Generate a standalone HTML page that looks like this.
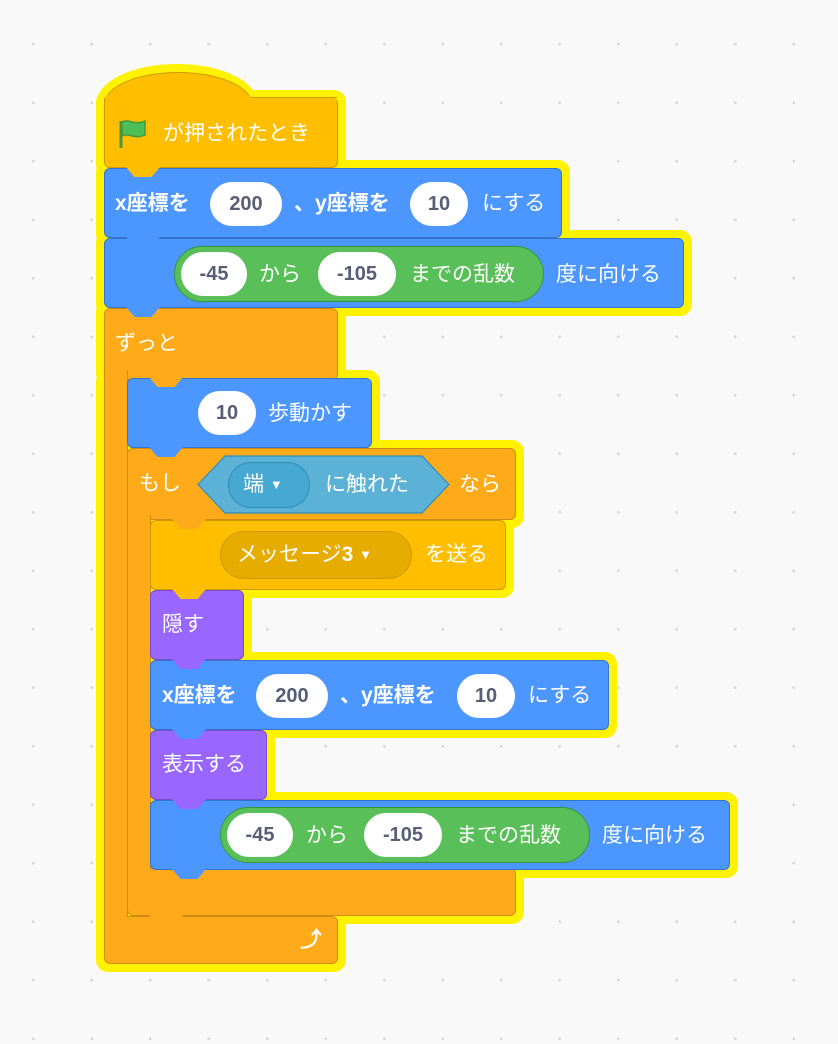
<!DOCTYPE html>
<html><head><meta charset="utf-8"><style>
html,body{margin:0;padding:0}
body{width:838px;height:1044px;position:relative;overflow:hidden;background-color:#f9f9f9;background-image:radial-gradient(circle,#d6d6d6 1.2px,transparent 1.6px);background-size:58.5px 58.5px;background-position:4px 15px;font-family:"Liberation Sans","Noto Sans CJK JP",sans-serif;}
.a{position:absolute;box-sizing:border-box}
.y{background:#fff200;border-radius:12px}
.b{border-radius:6px}
.t{position:absolute;color:#fff;font-size:21px;white-space:nowrap;line-height:24px}
.in{position:absolute;background:#fff;border-radius:22px;color:#575e75;font-size:20px;font-weight:bold;text-align:center;line-height:44px;height:44px;box-sizing:border-box}
.n{position:absolute;width:34px;height:10px;clip-path:polygon(0 0,100% 0,75% 100%,25% 100%)}
.blue{background:#4c97ff;border:1px solid #3373cc}
.or{background:#ffab19;border:1px solid #cf8b17}
.ye{background:#ffbf00;border:1px solid #cc9900}
.pu{background:#9966ff;border:1px solid #774dcb}
.gr{background:#59c059;border:1px solid #389438}
.ar{font-size:13px;vertical-align:2px}
</style></head><body>
<!-- yellow glow -->
<div class="a y" style="left:96px;top:64px;width:162px;height:80px;border-radius:80px 80px 0 0 / 40px 40px 0 0"></div>
<div class="a y" style="left:96px;top:90px;width:250px;height:86px"></div>
<div class="a y" style="left:96px;top:160px;width:474px;height:86px"></div>
<div class="a y" style="left:96px;top:230px;width:596px;height:86px"></div>
<div class="a y" style="left:96px;top:300px;width:250px;height:86px"></div>
<div class="a y" style="left:96px;top:370px;width:40px;height:600px"></div>
<div class="a y" style="left:96px;top:908px;width:250px;height:64px"></div>
<div class="a y" style="left:120px;top:370px;width:260px;height:86px"></div>
<div class="a y" style="left:120px;top:440px;width:404px;height:88px"></div>
<div class="a y" style="left:120px;top:510px;width:40px;height:414px"></div>
<div class="a y" style="left:120px;top:862px;width:404px;height:62px"></div>
<div class="a y" style="left:143px;top:512px;width:371px;height:86px"></div>
<div class="a y" style="left:143px;top:582px;width:109px;height:86px"></div>
<div class="a y" style="left:143px;top:652px;width:474px;height:86px"></div>
<div class="a y" style="left:143px;top:722px;width:132px;height:86px"></div>
<div class="a y" style="left:143px;top:792px;width:595px;height:86px"></div>

<!-- hat -->
<div class="a ye" style="left:104px;top:72px;width:148px;height:60px;border-radius:74px 74px 0 0 / 32px 32px 0 0;border-bottom:none"></div>
<div class="a ye" style="left:104px;top:98px;width:234px;height:70px;border-top:none;border-radius:0 6px 6px 6px"></div>
<div class="a" style="left:240px;top:97px;width:97px;height:1px;background:#cc9900"></div>
<div class="a" style="left:105px;top:96px;width:146px;height:6px;background:#ffbf00"></div>
<svg class="a" style="left:118px;top:118px" width="30" height="32" viewBox="0 0 30 32"><path d="M3 3 L3 30" stroke="#45993d" stroke-width="3"/><path d="M4 4 C10 0 16 8 27 3 L27 17 C16 22 10 14 4 18 Z" fill="#4cbf56" stroke="#45993d" stroke-width="1.5"/></svg>
<div class="t" style="left:163px;top:122px">が押されたとき</div>

<!-- set xy -->
<div class="a b blue" style="left:104px;top:168px;width:458px;height:70px"></div>
<div class="t" style="left:115px;top:192px;font-weight:bold">x座標を</div>
<div class="in" style="left:210px;top:182px;width:72px">200</div>
<div class="t" style="left:294px;top:192px;font-weight:bold">、y座標を</div>
<div class="in" style="left:410px;top:182px;width:58px">10</div>
<div class="t" style="left:482px;top:192px">にする</div>

<!-- point dir -->
<div class="a b blue" style="left:104px;top:238px;width:580px;height:70px"></div>
<div class="a gr" style="left:174px;top:246px;width:370px;height:56px;border-radius:28px"></div>
<div class="in" style="left:181px;top:252px;width:66px">-45</div>
<div class="t" style="left:259px;top:263px">から</div>
<div class="in" style="left:318px;top:252px;width:78px">-105</div>
<div class="t" style="left:410px;top:263px">までの乱数</div>
<div class="t" style="left:556px;top:263px">度に向ける</div>

<!-- forever -->
<div class="a b or" style="left:104px;top:308px;width:234px;height:72px"></div>
<div class="a or" style="left:104px;top:370px;width:24px;height:560px;border-top:none;border-bottom:none"></div>
<div class="a b or" style="left:104px;top:916px;width:234px;height:48px"></div>
<div class="a" style="left:105px;top:370px;width:22px;height:560px;background:#ffab19"></div>
<div class="t" style="left:115px;top:332px">ずっと</div>
<div class="t" style="left:300px;top:928px;font-size:22px;font-weight:bold">⤴</div>

<!-- move -->
<div class="a b blue" style="left:127px;top:378px;width:245px;height:70px"></div>
<div class="in" style="left:198px;top:391px;width:58px">10</div>
<div class="t" style="left:268px;top:402px">歩動かす</div>

<!-- if -->
<div class="a b or" style="left:127px;top:448px;width:389px;height:72px"></div>
<div class="a or" style="left:127px;top:515px;width:24px;height:360px;border-top:none;border-bottom:none"></div>
<div class="a b or" style="left:127px;top:868px;width:389px;height:48px"></div>
<div class="a" style="left:128px;top:512px;width:22px;height:362px;background:#ffab19"></div>
<div class="t" style="left:139px;top:472px">もし</div>
<svg class="a" style="left:197px;top:455px" width="254" height="60"><polygon points="1,29.5 28,1 225,1 252,29.5 225,58 28,58" fill="#5cb1d6" stroke="#2e8eb8" stroke-width="1.2"/></svg>
<div class="a" style="left:228px;top:462px;width:82px;height:46px;border-radius:23px;background:#47a8d1;border:1px solid #2e8eb8"></div>
<div class="t" style="left:243px;top:473px">端 <span class="ar">▼</span></div>
<div class="t" style="left:325px;top:473px">に触れた</div>
<div class="t" style="left:459px;top:473px">なら</div>

<!-- broadcast -->
<div class="a b ye" style="left:150px;top:520px;width:356px;height:70px"></div>
<div class="a" style="left:220px;top:531px;width:192px;height:48px;border-radius:24px;background:#e6ac00;border:1px solid #cc9900"></div>
<div class="t" style="left:237px;top:543px">メッセージ<b>3</b> <span class="ar">▼</span></div>
<div class="t" style="left:425px;top:543px">を送る</div>

<!-- hide -->
<div class="a b pu" style="left:150px;top:590px;width:94px;height:70px"></div>
<div class="t" style="left:162px;top:613px">隠す</div>

<!-- set xy 2 -->
<div class="a b blue" style="left:150px;top:660px;width:459px;height:70px"></div>
<div class="t" style="left:162px;top:684px;font-weight:bold">x座標を</div>
<div class="in" style="left:256px;top:674px;width:72px">200</div>
<div class="t" style="left:340px;top:684px;font-weight:bold">、y座標を</div>
<div class="in" style="left:457px;top:674px;width:58px">10</div>
<div class="t" style="left:528px;top:684px">にする</div>

<!-- show -->
<div class="a b pu" style="left:150px;top:730px;width:117px;height:70px"></div>
<div class="t" style="left:162px;top:753px">表示する</div>

<!-- point dir 2 -->
<div class="a b blue" style="left:150px;top:800px;width:580px;height:70px"></div>
<div class="a gr" style="left:220px;top:807px;width:370px;height:56px;border-radius:28px"></div>
<div class="in" style="left:227px;top:813px;width:66px">-45</div>
<div class="t" style="left:306px;top:824px">から</div>
<div class="in" style="left:364px;top:813px;width:78px">-105</div>
<div class="t" style="left:456px;top:824px">までの乱数</div>
<div class="t" style="left:602px;top:824px">度に向ける</div>

<!-- notches -->
<div class="n" style="left:126px;top:167px;background:#ffbf00"></div>
<div class="n" style="left:126px;top:237px;background:#4c97ff"></div>
<div class="n" style="left:126px;top:307px;background:#4c97ff"></div>
<div class="n" style="left:149px;top:377px;background:#ffab19"></div>
<div class="n" style="left:149px;top:447px;background:#4c97ff"></div>
<div class="n" style="left:172px;top:519px;background:#ffab19"></div>
<div class="n" style="left:172px;top:589px;background:#ffbf00"></div>
<div class="n" style="left:172px;top:659px;background:#9966ff"></div>
<div class="n" style="left:172px;top:729px;background:#4c97ff"></div>
<div class="n" style="left:172px;top:799px;background:#9966ff"></div>
<div class="n" style="left:172px;top:869px;background:#4c97ff"></div>
<div class="n" style="left:149px;top:915px;background:#ffab19"></div>
</body></html>
